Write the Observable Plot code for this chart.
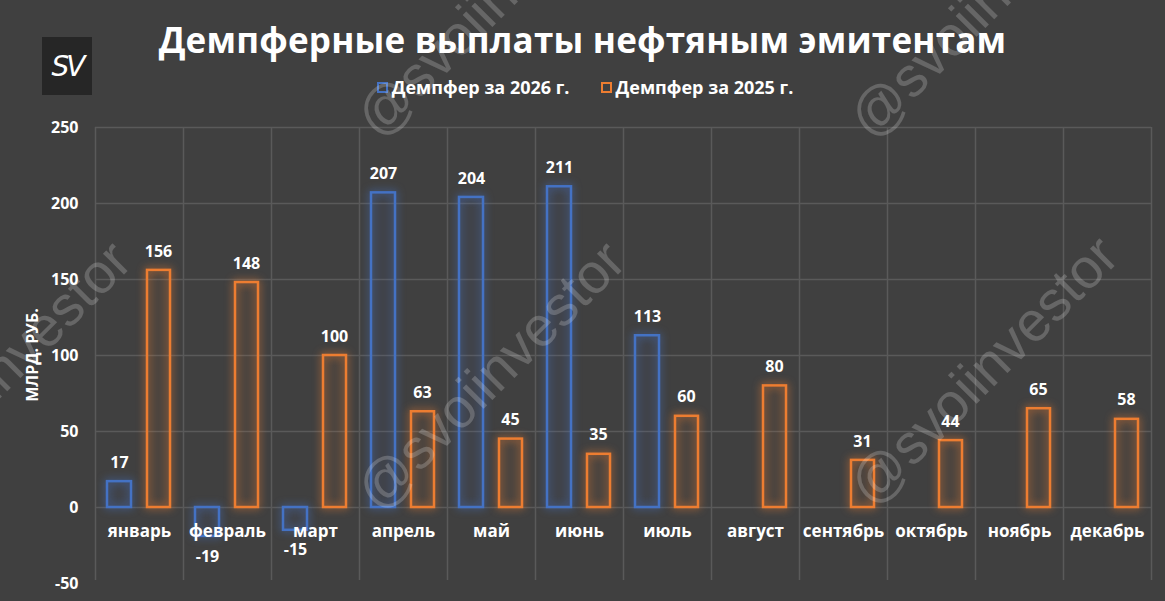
<!DOCTYPE html>
<html><head><meta charset="utf-8">
<script src="https://cdn.jsdelivr.net/npm/d3@7"></script>
<script src="https://cdn.jsdelivr.net/npm/@observablehq/plot@0.6"></script>
<style>
html,body{margin:0;padding:0;background:#404040;width:1165px;height:601px;overflow:hidden;}
#wrap{position:relative;width:1165px;height:601px;font-family:"Open Sans",Lato,sans-serif;color:#fff;}
#title{position:absolute;left:0;width:1165px;top:16px;text-align:center;font-size:35px;font-weight:700;letter-spacing:0.2px;}
#legend{position:absolute;left:0;width:1170px;top:75px;display:flex;justify-content:center;gap:31px;font-size:18px;font-weight:700;}
#legend .item{display:flex;align-items:center;gap:4px;}
#legend .sw{width:11px;height:11px;border:2px solid;box-sizing:border-box;display:inline-block;}
#logo{position:absolute;left:42px;top:37px;width:50px;height:58px;background:#262626;display:flex;align-items:center;justify-content:center;font-family:"DejaVu Sans",sans-serif;font-size:28px;color:#fff;font-style:italic;letter-spacing:-3px;}
#ylab{position:absolute;left:32px;top:355px;transform:translate(-50%,-50%) rotate(-90deg);font-size:16px;font-weight:700;white-space:nowrap;}
#chart{position:absolute;left:0;top:0;}
.wm{position:absolute;font-family:"Liberation Sans",Arial,sans-serif;font-size:56px;color:rgba(255,255,255,0.2);white-space:nowrap;transform:translate(-50%,-50%) rotate(-45deg);pointer-events:none;}
g.b26 rect{filter:drop-shadow(0 0 4px rgba(68,114,196,0.95));}
g.b25 rect{filter:drop-shadow(0 0 4px rgba(237,125,49,0.95));}
</style></head>
<body><div id="wrap">
<div id="chart"></div>
<div id="title">Демпферные выплаты нефтяным эмитентам</div>
<div id="legend"></div>
<div id="logo">SV</div>
<div id="ylab">МЛРД. РУБ.</div>
</div>
<script>
const months = ["январь","февраль","март","апрель","май","июнь","июль","август","сентябрь","октябрь","ноябрь","декабрь"];
const damper2026 = [17,-19,-15,207,204,211,113,null,null,null,null,null];
const damper2025 = [156,148,100,63,45,35,60,80,31,44,65,58];
const yTicks = [-50,0,50,100,150,200,250];
const seriesNames = ["Демпфер за 2026 г.","Демпфер за 2025 г."];
const colors = ["#4472C4","#ED7D31"];
const watermark = "@svoiinvestor";

const rows26 = months.map((m,i)=>({month:m,value:damper2026[i]})).filter(d=>d.value!=null);
const rows25 = months.map((m,i)=>({month:m,value:damper2025[i]}));

const W = 1165, H = 601, mL = 95, mR = 14;
const bw = (W - mL - mR) / months.length;
const grid = "#5a5a5a";

const chart = Plot.plot({
  width: W, height: H,
  marginTop: 127, marginBottom: 18, marginLeft: mL, marginRight: mR,
  style: {background: "transparent", color: "#fff", fontFamily: "'Open Sans', Lato, sans-serif", overflow: "visible"},
  x: {domain: months, padding: 0, axis: null},
  y: {domain: [-50, 250], ticks: yTicks, label: null, axis: null},
  marks: [
    Plot.ruleY(yTicks.filter(t => t >= 0), {stroke: grid, strokeWidth: 1.5}),
    Plot.ruleX(months, {x: d => d, dx: -bw/2, y1: 250, y2: -48, stroke: grid, strokeWidth: 1.5}),
    Plot.ruleX([months[months.length-1]], {x: d => d, dx: bw/2, y1: 250, y2: -48, stroke: grid, strokeWidth: 1.5}),
    Plot.axisY({ticks: yTicks, tickSize: 0, tickPadding: 17, fontSize: 16, fontWeight: "bold", label: null, tickFormat: d => String(d)}),
    Plot.barY(rows26, {x: "month", y: "value", insetLeft: 12, insetRight: 52, stroke: colors[0], strokeWidth: 2.5, fill: colors[0], fillOpacity: 0.04}),
    Plot.barY(rows25, {x: "month", y: "value", insetLeft: 52, insetRight: 13, stroke: colors[1], strokeWidth: 2.5, fill: colors[1], fillOpacity: 0.04}),
    Plot.text(rows26.filter(d => d.value >= 0), {x: "month", y: "value", text: d => String(d.value), dx: -20, dy: -19, fontSize: 16, fontWeight: "bold", fill: "#fff"}),
    Plot.text(rows26.filter(d => d.value < 0), {x: "month", y: "value", text: d => String(d.value), dx: -20, dy: 20, fontSize: 16, fontWeight: "bold", fill: "#fff"}),
    Plot.text(rows25, {x: "month", y: "value", text: d => String(d.value), dx: 19, dy: -19, fontSize: 16, fontWeight: "bold", fill: "#fff"}),
    Plot.text(months, {x: d => d, y: d => 0, dy: 24, fontSize: 17, fontWeight: "bold", fill: "#fff"})
  ]
});
chart.querySelectorAll('g[aria-label="bar"]').forEach((g, i) => g.classList.add(i === 0 ? "b26" : "b25"));
document.getElementById("chart").appendChild(chart);

const legend = document.getElementById("legend");
seriesNames.forEach((n, i) => {
  const it = document.createElement("div"); it.className = "item";
  const sw = document.createElement("span"); sw.className = "sw"; sw.style.borderColor = colors[i];
  const t = document.createElement("span"); t.textContent = n;
  it.appendChild(sw); it.appendChild(t); legend.appendChild(it);
});

const wmPos = [[490,2],[983,3],[-4,375],[490,375],[983,370]];
const wrap = document.getElementById("wrap");
wmPos.forEach(([x,y]) => {
  const d = document.createElement("div"); d.className = "wm"; d.textContent = watermark;
  d.style.left = x + "px"; d.style.top = y + "px"; wrap.appendChild(d);
});
</script>
</body></html>
